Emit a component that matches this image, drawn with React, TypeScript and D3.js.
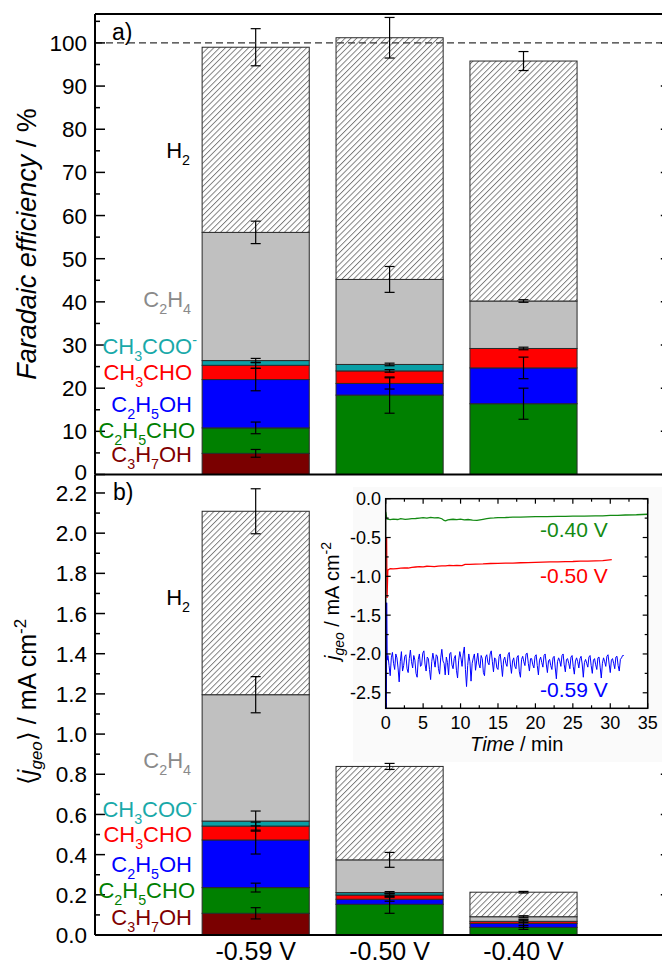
import React from 'react';
import * as d3 from 'd3';

// ---------- data ----------
const categories = ['-0.59 V', '-0.50 V', '-0.40 V'];
const species = ['C3H7OH', 'C2H5CHO', 'C2H5OH', 'CH3CHO', 'CH3COO', 'C2H4', 'H2'];

// Faradaic efficiency increments (%) per species, per potential
const feC3H7OH = [4.9, 0, 0];
const feC2H5CHO = [5.9, 18.4, 16.4];
const feC2H5OH = [11.2, 2.7, 8.3];
const feCH3CHO = [3.3, 2.9, 4.5];
const feCH3COO = [1.1, 1.5, 0];
const feC2H4 = [29.7, 19.7, 11.0];
const feH2 = [42.9, 56.0, 55.6];
// error half widths
const feErrC3H7OH = [0.9, 0, 0];
const feErrC2H5CHO = [1.35, 4.2, 3.6];
const feErrC2H5OH = [2.6, 1.3, 2.5];
const feErrCH3CHO = [0.7, 0.3, 0.3];
const feErrCH3COO = [0.5, 0.3, 0];
const feErrC2H4 = [2.6, 3.0, 0.3];
const feErrH2 = [4.3, 4.7, 2.2];

// partial current densities (mA cm-2)
const jC3H7OH = [0.108, 0, 0];
const jC2H5CHO = [0.128, 0.153, 0.038];
const jC2H5OH = [0.237, 0.025, 0.02];
const jCH3CHO = [0.069, 0.021, 0.01];
const jCH3COO = [0.025, 0.012, 0];
const jC2H4 = [0.629, 0.163, 0.023];
const jH2 = [0.913, 0.465, 0.122];
const jErrC3H7OH = [0.028, 0, 0];
const jErrC2H5CHO = [0.022, 0.045, 0.01];
const jErrC2H5OH = [0.07, 0.01, 0.02];
const jErrCH3CHO = [0.02, 0.008, 0.005];
const jErrCH3COO = [0.05, 0.005, 0];
const jErrC2H4 = [0.09, 0.037, 0.005];
const jErrH2 = [0.112, 0.015, 0.004];

const feTicks = [0, 10, 20, 30, 40, 50, 60, 70, 80, 90, 100];
const feMinor = [5, 15, 25, 35, 45, 55, 65, 75, 85, 95, 105];
const jTicks = [0, 0.2, 0.4, 0.6, 0.8, 1.0, 1.2, 1.4, 1.6, 1.8, 2.0, 2.2];
const jMinor = [0.1, 0.3, 0.5, 0.7, 0.9, 1.1, 1.3, 1.5, 1.7, 1.9, 2.1];

// inset chronoamperometry
const insetXTicks = [0, 5, 10, 15, 20, 25, 30, 35];
const insetXMinor = [2.5, 7.5, 12.5, 17.5, 22.5, 27.5, 32.5];
const insetYTicks = [0, -0.5, -1.0, -1.5, -2.0, -2.5];
const insetYMinor = [-0.25, -0.75, -1.25, -1.75, -2.25];

const trace040: [number, number][] = [
  [0, -0.17], [0.15, -0.26], [0.6, -0.27], [1, -0.262], [1.6, -0.268], [2, -0.258], [2.6, -0.266], [3, -0.262],
  [3.5, -0.256], [4, -0.255], [4.5, -0.25], [5, -0.245], [5.5, -0.25], [6, -0.24], [6.5, -0.246], [7, -0.245],
  [7.5, -0.258], [7.8, -0.28], [8.0, -0.285], [8.3, -0.272], [8.7, -0.268], [9, -0.265], [9.5, -0.27],
  [10, -0.262], [10.5, -0.272], [11, -0.268], [11.6, -0.275], [12.2, -0.28], [12.6, -0.272], [13, -0.266],
  [13.5, -0.258], [14, -0.25], [14.5, -0.248], [15, -0.243], [16, -0.242], [17, -0.238], [18, -0.237],
  [19, -0.234], [20, -0.232], [21.5, -0.231], [23, -0.228], [24, -0.227], [25, -0.225], [26.5, -0.224],
  [28, -0.22], [29, -0.221], [30, -0.215], [31, -0.214], [32, -0.21], [33.5, -0.207], [35, -0.2]
];
const trace050: [number, number][] = [
  [0.12, -0.5], [0.18, -1.28], [0.28, -0.92], [0.6, -0.9], [1.0, -0.905], [1.5, -0.9], [2.0, -0.895],
  [2.5, -0.89], [3.0, -0.893], [3.5, -0.885], [4.0, -0.88], [4.5, -0.875], [5.0, -0.877], [5.5, -0.87],
  [6.0, -0.872], [6.5, -0.875], [7.0, -0.868], [7.5, -0.865], [8.0, -0.866], [8.5, -0.86], [9.0, -0.862],
  [9.5, -0.858], [10.2, -0.862], [10.6, -0.845], [11.2, -0.846], [12, -0.842], [13, -0.84], [14, -0.835],
  [15, -0.834], [16, -0.83], [17, -0.829], [18, -0.825], [19, -0.824], [20, -0.82], [21, -0.818],
  [22, -0.815], [23, -0.813], [24, -0.81], [25, -0.809], [26, -0.805], [27, -0.803], [28, -0.8],
  [29, -0.797], [30.2, -0.785]
];
// -0.59 V trace: initial spike, then current sampled every 0.15 min starting at 0.3 min
const trace059Spike: [number, number][] = [[0.1, -2.7], [0.13, -1.34], [0.2, -2.08]];
const trace059Start = 0.3;
const trace059Step = 0.15;
const trace059Values = [
  -2.02, -2.15, -2.28, -2.05, -1.98, -2.12, -2.2, -2.0, -2.05, -2.18,
  -2.36, -2.1, -1.97, -2.22, -2.15, -2.03, -2.01, -2.19, -2.24, -2.06,
  -1.95, -2.1, -2.18, -2.02, -2.08, -2.25, -2.3, -2.07, -2.0, -2.16,
  -2.14, -1.99, -1.96, -2.13, -2.22, -2.04, -2.06, -2.2, -2.33, -2.1,
  -1.99, -2.08, -2.17, -2.01, -2.03, -2.19, -2.26, -2.05, -1.94, -2.09,
  -2.12, -2.27, -2.04, -2.11, -2.27, -2.0, -1.98, -2.14, -2.19, -2.06,
  -2.02, -2.21, -2.31, -2.08, -1.97, -2.05, -2.16, -2.0, -1.91, -2.2,
  -2.42, -2.15, -2.0, -2.1, -2.35, -2.12, -2.05, -2.0, -2.21, -2.09,
  -1.99, -2.13, -2.18, -2.02, -2.06, -2.24, -2.28, -2.04, -2.01, -2.11,
  -2.14, -2.0, -1.96, -2.1, -2.23, -2.05, -2.07, -2.18, -2.2, -2.03,
  -2.0, -2.14, -2.29, -2.08, -2.04, -2.12, -2.16, -2.01, -1.98, -2.13,
  -2.25, -2.09, -2.05, -2.16, -2.19, -2.04, -2.02, -2.23, -2.3, -2.07,
  -2.03, -2.1, -2.15, -2.0, -1.99, -2.12, -2.22, -2.06, -2.06, -2.14,
  -2.18, -2.03, -2.01, -2.15, -2.27, -2.08, -2.04, -2.11, -2.17, -2.02,
  -2.0, -2.13, -2.24, -2.09, -2.07, -2.15, -2.2, -2.05, -2.03, -2.18,
  -2.32, -2.1, -2.05, -2.09, -2.16, -2.02, -2.0, -2.14, -2.23, -2.07,
  -2.06, -2.12, -2.19, -2.04, -2.02, -2.16, -2.26, -2.09, -2.05, -2.1,
  -2.18, -2.06, -2.03, -2.13, -2.3, -2.11, -2.07, -2.12, -2.17, -2.04,
  -2.02, -2.15, -2.25, -2.08, -2.06, -2.14, -2.2, -2.05, -2.04, -2.17,
  -2.31, -2.12, -2.05, -2.1, -2.16, -2.03, -2.01, -2.13, -2.24, -2.08,
  -2.06, -2.12, -2.19, -2.04, -2.03, -2.15, -2.22, -2.07, -2.05, -2.02,
  -2.02
];

// ---------- styling ----------
const FONT = '"Liberation Sans", Arial, Helvetica, sans-serif';
const fills: Record<string, string> = {
  C3H7OH: '#7a0000', C2H5CHO: '#008000', C2H5OH: '#0000ff', CH3CHO: '#ff0000',
  CH3COO: '#0a9fa6', C2H4: '#c0c0c0', H2: 'url(#hatch)'
};
const labelColors: Record<string, string> = {
  C3H7OH: '#800000', C2H5CHO: '#008000', C2H5OH: '#0000ff', CH3CHO: '#ff0000',
  CH3COO: '#19a9a9', C2H4: '#8a8a8a', H2: '#000000'
};
type Part = [string, number];
const labelParts: Record<string, Part[]> = {
  H2: [['H', 0], ['2', -1]],
  C2H4: [['C', 0], ['2', -1], ['H', 0], ['4', -1]],
  CH3COO: [['CH', 0], ['3', -1], ['COO', 0], ['-', 1]],
  CH3CHO: [['CH', 0], ['3', -1], ['CHO', 0]],
  C2H5OH: [['C', 0], ['2', -1], ['H', 0], ['5', -1], ['OH', 0]],
  C2H5CHO: [['C', 0], ['2', -1], ['H', 0], ['5', -1], ['CHO', 0]],
  C3H7OH: [['C', 0], ['3', -1], ['H', 0], ['7', -1], ['OH', 0]]
};
const labelPosA: Record<string, [number, number]> = {
  H2: [190, 158], C2H4: [191, 307], CH3COO: [197, 354], CH3CHO: [192, 380],
  C2H5OH: [192, 412], C2H5CHO: [195, 438], C3H7OH: [192, 462]
};
const labelPosB: Record<string, [number, number]> = {
  H2: [190, 605], C2H4: [191, 768], CH3COO: [197, 817], CH3CHO: [192, 842],
  C2H5OH: [192, 872], C2H5CHO: [195, 898], C3H7OH: [192, 925]
};

function Chem({ parts, x, y, color, size }: { parts: Part[]; x: number; y: number; color: string; size: number }) {
  let cur = 0;
  return (
    <text x={x} y={y} fill={color} fontSize={size} fontFamily={FONT} textAnchor="end">
      {parts.map(([t, k], i) => {
        const target = k === -1 ? size * 0.34 : k === 1 ? -size * 0.42 : 0;
        const dy = target - cur;
        cur = target;
        return (
          <tspan key={i} dy={dy} fontSize={k === 0 ? size : size * 0.65}>{t}</tspan>
        );
      })}
    </text>
  );
}

const x = d3.scaleLinear().domain([-0.2, 4.1]).range([95, 670.8]);
const catPos = [1, 2, 3];
const barW = x(0.8) - x(0);
const yA = d3.scaleLinear().domain([0, 106.7]).range([474.5, 14]);
const yB = d3.scaleLinear().domain([0, 2.292]).range([935, 474.5]);
const xi = d3.scaleLinear().domain([0, 35]).range([385.7, 647.7]);
const yi = d3.scaleLinear().domain([-2.7, 0]).range([708.3, 498.7]);

function buildStack(vals: number[][]) {
  const rows = categories.map((c, i) => {
    const o: Record<string, number> = {};
    species.forEach((s, k) => (o[s] = vals[k][i]));
    return o;
  });
  return d3.stack<Record<string, number>>().keys(species)(rows);
}

function Bars({ vals, errs, y }: { vals: number[][]; errs: number[][]; y: d3.ScaleLinear<number, number> }) {
  const st = buildStack(vals);
  return (
    <g>
      {st.map((layer, k) =>
        layer.map((d, i) => {
          const h = y(d[0]) - y(d[1]);
          if (h <= 0.01) return null;
          return (
            <rect key={`${k}-${i}`} x={x(catPos[i]) - barW / 2} y={y(d[1])} width={barW} height={h}
              fill={fills[species[k]]} stroke="#2a2a2a" strokeWidth={1} />
          );
        })
      )}
      {st.map((layer, k) =>
        layer.map((d, i) => {
          const e = errs[k][i];
          if (!e) return null;
          const cx = x(catPos[i]);
          const y1 = y(d[1] + e), y2 = y(d[1] - e);
          return (
            <g key={`e${k}-${i}`} stroke="#000" strokeWidth={1.2}>
              <line x1={cx} x2={cx} y1={y1} y2={y2} />
              <line x1={cx - 5} x2={cx + 5} y1={y1} y2={y1} />
              <line x1={cx - 5} x2={cx + 5} y1={y2} y2={y2} />
            </g>
          );
        })
      )}
    </g>
  );
}

function YAxis({ y, ticks, minor, fmt, zeroShift }: { y: d3.ScaleLinear<number, number>; ticks: number[]; minor: number[]; fmt: (v: number) => string; zeroShift: number }) {
  const xl = 95, xr = 670.8;
  const [r0, r1] = y.range();
  return (
    <g>
      <line x1={xl} x2={xl} y1={r0} y2={r1} stroke="#000" strokeWidth={2} />
      <line x1={xr} x2={xr} y1={r0} y2={r1} stroke="#000" strokeWidth={2} />
      {ticks.map((t) => (
        <g key={`t${t}`}>
          <line x1={xl} x2={xl + 10} y1={y(t)} y2={y(t)} stroke="#000" strokeWidth={1.5} />
          <line x1={xr} x2={xr - 10} y1={y(t)} y2={y(t)} stroke="#000" strokeWidth={1.5} />
          <text x={87} y={y(t) + (t === 0 ? zeroShift : 0)} dy="0.36em" textAnchor="end" fontSize={22.5} fontFamily={FONT}>{fmt(t)}</text>
        </g>
      ))}
      {minor.filter((t) => y(t) >= r1 - 0.1).map((t) => (
        <g key={`m${t}`}>
          <line x1={xl} x2={xl + 5} y1={y(t)} y2={y(t)} stroke="#000" strokeWidth={1.5} />
          <line x1={xr} x2={xr - 5} y1={y(t)} y2={y(t)} stroke="#000" strokeWidth={1.5} />
        </g>
      ))}
    </g>
  );
}

export default function App() {
  const feVals = [feC3H7OH, feC2H5CHO, feC2H5OH, feCH3CHO, feCH3COO, feC2H4, feH2];
  const feErrs = [feErrC3H7OH, feErrC2H5CHO, feErrC2H5OH, feErrCH3CHO, feErrCH3COO, feErrC2H4, feErrH2];
  const jVals = [jC3H7OH, jC2H5CHO, jC2H5OH, jCH3CHO, jCH3COO, jC2H4, jH2];
  const jErrs = [jErrC3H7OH, jErrC2H5CHO, jErrC2H5OH, jErrCH3CHO, jErrCH3COO, jErrC2H4, jErrH2];

  const trace059: [number, number][] = trace059Spike.concat(
    trace059Values.map((v, i) => [trace059Start + i * trace059Step, v] as [number, number])
  );

  const line = d3.line<[number, number]>().x((d) => xi(d[0])).y((d) => yi(d[1]));
  const [ix0, ix1] = xi.range();
  const [iy0, iy1] = yi.range();

  return (
    <svg width={662} height={967} style={{ position: 'absolute', left: 0, top: 0, background: '#fff' }}
      fontFamily={FONT}>
      <defs>
        <pattern id="hatch" patternUnits="userSpaceOnUse" width={4.1} height={10} patternTransform="rotate(45)">
          <rect width={4.1} height={10} fill="#fff" />
          <line x1={0.5} y1={0} x2={0.5} y2={10} stroke="#555" strokeWidth={0.8} />
        </pattern>
      </defs>
      <rect width={662} height={967} fill="#fff" />

      {/* panel a */}
      <Bars vals={feVals} errs={feErrs} y={yA} />
      <line x1={95} x2={670.8} y1={yA(100)} y2={yA(100)} stroke="#333" strokeWidth={1.3} strokeDasharray="7 4" />
      <YAxis y={yA} ticks={feTicks} minor={feMinor} fmt={(v) => String(v)} zeroShift={-3} />
      <line x1={95} x2={670.8} y1={14} y2={14} stroke="#000" strokeWidth={2} />
      <line x1={95} x2={670.8} y1={474.5} y2={474.5} stroke="#000" strokeWidth={2} />
      <text x={112} y={40} fontSize={23}>a)</text>
      {species.map((s) => (
        <Chem key={`la${s}`} parts={labelParts[s]} x={labelPosA[s][0]} y={labelPosA[s][1]} color={labelColors[s]} size={22} />
      ))}
      <text transform="translate(36,244) rotate(-90)" textAnchor="middle" fontSize={27}>
        <tspan fontStyle="italic">Faradaic efficiency</tspan>
        <tspan> / %</tspan>
      </text>

      {/* panel b */}
      <Bars vals={jVals} errs={jErrs} y={yB} />
      <YAxis y={yB} ticks={jTicks} minor={jMinor} fmt={(v) => v.toFixed(1)} zeroShift={0} />
      <line x1={95} x2={670.8} y1={935} y2={935} stroke="#000" strokeWidth={2} />
      <text x={113} y={500} fontSize={23}>b)</text>
      {species.map((s) => (
        <Chem key={`lb${s}`} parts={labelParts[s]} x={labelPosB[s][0]} y={labelPosB[s][1]} color={labelColors[s]} size={22} />
      ))}
      <text transform="translate(36,702) rotate(-90)" textAnchor="middle" fontSize={25}>
        <tspan>⟨</tspan>
        <tspan fontStyle="italic">j</tspan>
        <tspan fontStyle="italic" fontSize={17} dy={6}>geo</tspan>
        <tspan dy={-6}>⟩ / mA cm</tspan>
        <tspan fontSize={17} dy={-10}>-2</tspan>
      </text>
      {categories.map((c, i) => (
        <text key={c} x={x(catPos[i])} y={960} textAnchor="middle" fontSize={25}>{c}</text>
      ))}

      {/* inset */}
      <rect x={353} y={487} width={309} height={275} fill="#fafafa" />
      <rect x={ix0} y={iy1} width={ix1 - ix0} height={iy0 - iy1} fill="#fff" />
      <path d={line(trace040) || ''} fill="none" stroke="#138a13" strokeWidth={1.3} />
      <path d={line(trace050) || ''} fill="none" stroke="#ff0000" strokeWidth={1.3} />
      <path d={line(trace059) || ''} fill="none" stroke="#0000ff" strokeWidth={1} />
      <rect x={ix0} y={iy1} width={ix1 - ix0} height={iy0 - iy1} fill="none" stroke="#000" strokeWidth={1.5} />
      {insetXTicks.map((t) => (
        <g key={`ix${t}`}>
          <line x1={xi(t)} x2={xi(t)} y1={iy0} y2={iy0 - 5} stroke="#000" strokeWidth={1.2} />
          <line x1={xi(t)} x2={xi(t)} y1={iy1} y2={iy1 + 5} stroke="#000" strokeWidth={1.2} />
          <text x={xi(t)} y={729} textAnchor="middle" fontSize={18}>{t}</text>
        </g>
      ))}
      {insetXMinor.map((t) => (
        <g key={`ixm${t}`}>
          <line x1={xi(t)} x2={xi(t)} y1={iy0} y2={iy0 - 3} stroke="#000" strokeWidth={1.2} />
          <line x1={xi(t)} x2={xi(t)} y1={iy1} y2={iy1 + 3} stroke="#000" strokeWidth={1.2} />
        </g>
      ))}
      {insetYTicks.map((t) => (
        <g key={`iy${t}`}>
          <line x1={ix0} x2={ix0 + 5} y1={yi(t)} y2={yi(t)} stroke="#000" strokeWidth={1.2} />
          <line x1={ix1} x2={ix1 - 5} y1={yi(t)} y2={yi(t)} stroke="#000" strokeWidth={1.2} />
          <text x={381} y={yi(t)} dy="0.36em" textAnchor="end" fontSize={18}>{t.toFixed(1)}</text>
        </g>
      ))}
      {insetYMinor.map((t) => (
        <g key={`iym${t}`}>
          <line x1={ix0} x2={ix0 + 3} y1={yi(t)} y2={yi(t)} stroke="#000" strokeWidth={1.2} />
          <line x1={ix1} x2={ix1 - 3} y1={yi(t)} y2={yi(t)} stroke="#000" strokeWidth={1.2} />
        </g>
      ))}
      <text x={540} y={537} fontSize={21} fill="#138a13">-0.40 V</text>
      <text x={540} y={583} fontSize={21} fill="#ff0000">-0.50 V</text>
      <text x={540} y={697} fontSize={21} fill="#0000ff">-0.59 V</text>
      <text x={(ix0 + ix1) / 2} y={751} textAnchor="middle" fontSize={20}>
        <tspan fontStyle="italic">Time</tspan>
        <tspan> / min</tspan>
      </text>
      <text transform="translate(339,601) rotate(-90)" textAnchor="middle" fontSize={20}>
        <tspan fontStyle="italic">j</tspan>
        <tspan fontStyle="italic" fontSize={14} dy={5}>geo</tspan>
        <tspan dy={-5}> / mA cm</tspan>
        <tspan fontSize={14} dy={-8}>-2</tspan>
      </text>
    </svg>
  );
}
